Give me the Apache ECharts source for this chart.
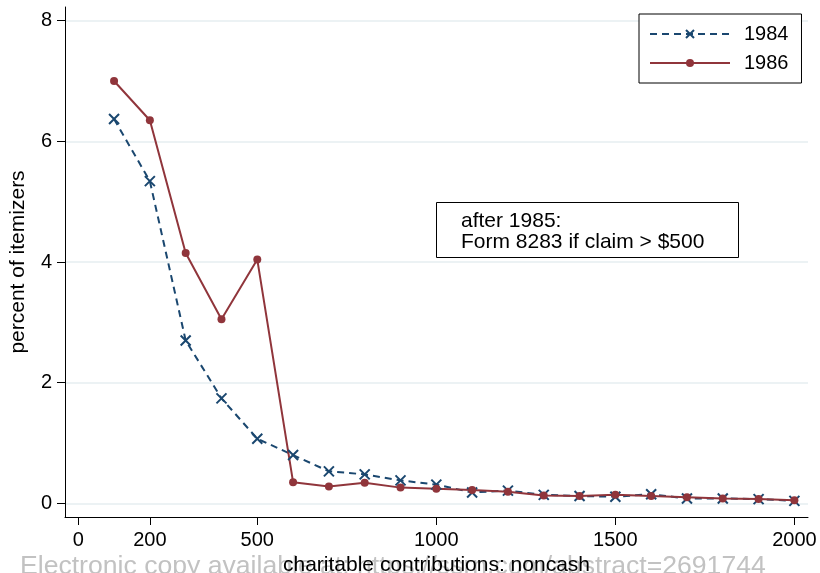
<!DOCTYPE html>
<html>
<head>
<meta charset="utf-8">
<script src="https://cdn.jsdelivr.net/npm/echarts@6/dist/echarts.min.js"></script>
<style>
  html,body{margin:0;padding:0;background:#fff;}
  #chart{width:820px;height:573px;}
</style>
</head>
<body>
<div id="chart"></div>
<script>
// noncash charitable contributions, share of itemizers by claim size
var amounts = [100, 200, 300, 400, 500, 600, 700, 800, 900, 1000,
               1100, 1200, 1300, 1400, 1500, 1600, 1700, 1800, 1900, 2000];
var pct1984 = [6.37, 5.34, 2.70, 1.74, 1.07, 0.80, 0.53, 0.48, 0.38, 0.31,
               0.18, 0.21, 0.14, 0.12, 0.11, 0.15, 0.08, 0.08, 0.07, 0.04];
var pct1986 = [7.00, 6.35, 4.15, 3.05, 4.04, 0.35, 0.28, 0.34, 0.26, 0.24,
               0.22, 0.19, 0.13, 0.12, 0.14, 0.12, 0.10, 0.08, 0.07, 0.05];
var xTicks = [0, 200, 500, 1000, 1500, 2000];
var yTicks = [0, 2, 4, 6, 8];

var FONT = '"Liberation Sans", Arial, Helvetica, sans-serif';
var NAVY = '#1a476f';
var MAROON = '#90353b';

function pairs(xs, ys) {
  return xs.map(function (x, i) { return [x, ys[i]]; });
}
function plain(v) { return String(v); }

var chart = echarts.init(document.getElementById('chart'));
chart.setOption({
  animation: false,
  backgroundColor: '#fff',
  grid: { left: 65, right: 12, top: 7, bottom: 56, containLabel: false, outerBoundsMode: 'none' },
  xAxis: {
    type: 'value',
    min: -37, max: 2038,
    name: 'charitable contributions: noncash',
    nameLocation: 'middle',
    nameGap: 35,
    nameTextStyle: { color: '#000', fontSize: 21, fontFamily: FONT },
    axisLine: { onZero: false, lineStyle: { color: '#000', width: 1 } },
    axisTick: { length: 8, customValues: xTicks, lineStyle: { color: '#000' } },
    axisLabel: { customValues: xTicks, formatter: plain, margin: 13, color: '#000', fontSize: 20, fontFamily: FONT },
    splitLine: { show: false }
  },
  yAxis: {
    type: 'value',
    min: -0.227, max: 8.227,
    name: 'percent of itemizers',
    nameLocation: 'middle',
    nameGap: 36,
    nameTextStyle: { color: '#000', fontSize: 21, fontFamily: FONT },
    axisLine: { show: true, onZero: false, lineStyle: { color: '#000', width: 1 } },
    axisTick: { show: true, length: 8, customValues: yTicks, lineStyle: { color: '#000' } },
    axisLabel: { customValues: yTicks, formatter: plain, margin: 13, color: '#000', fontSize: 20, fontFamily: FONT },
    splitLine: { show: true, lineStyle: { color: '#e6eef1', width: 1.5 } }
  },
  legend: {
    orient: 'vertical',
    left: 639, top: 14,
    padding: [10, 13, 10, 10],
    borderColor: '#000', borderWidth: 1,
    backgroundColor: '#fff',
    itemWidth: 80, itemHeight: 10, itemGap: 9,
    textStyle: { color: '#000', fontSize: 20, fontFamily: FONT, padding: [0, 0, 0, 9] },
    data: ['1984', '1986']
  },
  series: [
    {
      name: '1984',
      type: 'line',
      data: pairs(amounts, pct1984),
      symbol: 'path://M0,0L10,10M10,0L0,10',
      symbolSize: 10,
      lineStyle: { color: NAVY, width: 2, type: [7, 5] },
      itemStyle: { color: NAVY, borderColor: NAVY, borderWidth: 2 },
      emphasis: { disabled: true }
    },
    {
      name: '1986',
      type: 'line',
      data: pairs(amounts, pct1986),
      symbol: 'circle',
      symbolSize: 8,
      lineStyle: { color: MAROON, width: 2 },
      itemStyle: { color: MAROON, borderWidth: 0 },
      emphasis: { disabled: true }
    }
  ],
  graphic: [
    {
      type: 'group', left: 436, top: 202, z: 50,
      children: [
        { type: 'rect', shape: { x: 0.5, y: 0.5, width: 302, height: 55 },
          style: { fill: '#fff', stroke: '#000', lineWidth: 1 } },
        { type: 'text', x: 25, y: 9,
          style: { text: 'after 1985:\nForm 8283 if claim > $500', fill: '#000',
                   font: '21px ' + FONT, lineHeight: 21, verticalAlign: 'top' } }
      ]
    },
    {
      type: 'text', z: -10, left: 20, top: 553,
      style: { text: 'Electronic copy available at: https://ssrn.com/abstract=2691744',
               fill: '#c2c2c2', font: '26.6px ' + FONT }
    }
  ]
});
</script>
</body>
</html>
